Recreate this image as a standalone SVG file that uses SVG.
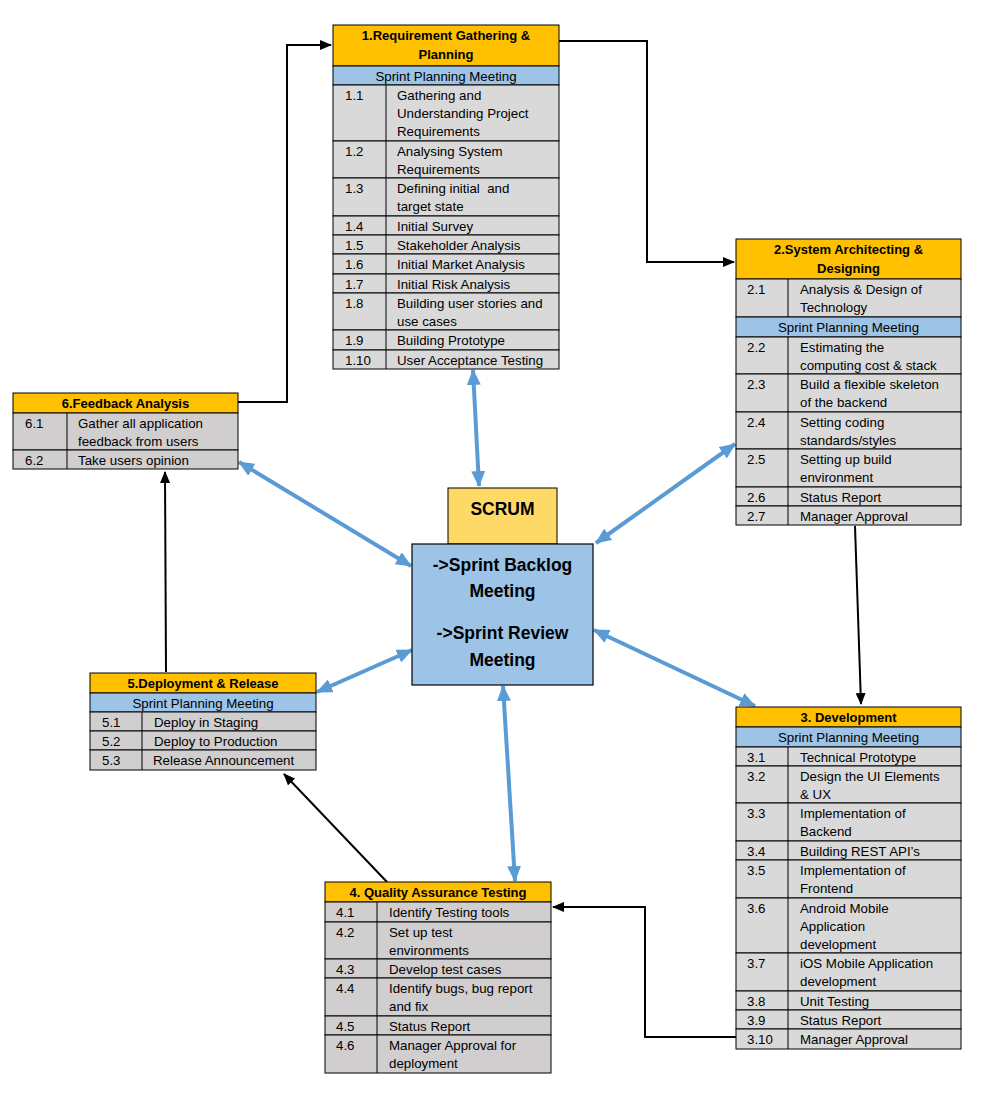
<svg xmlns="http://www.w3.org/2000/svg" width="982" height="1093" viewBox="0 0 982 1093">
<style>
text{font-family:"Liberation Sans",Arial,sans-serif;fill:#000}
.t{font-size:13.3px}
.h{font-size:13px;font-weight:bold;text-anchor:middle}
.c{text-anchor:middle}
.hd{fill:#FFC000;stroke:#000;stroke-width:1}
.sp{fill:#9DC3E6;stroke:#000;stroke-width:1}
.ra{fill:#D9D9D9;stroke:#000;stroke-width:1}
.rb{fill:#D0CECE;stroke:#000;stroke-width:1}
.dv{stroke:#000;stroke-width:1}
.bk{fill:none;stroke:#000;stroke-width:2}
.bl{fill:none;stroke:#5B9BD5;stroke-width:4}
.big{font-size:17.5px;font-weight:bold;text-anchor:middle}
</style>
<defs>
<marker id="ab" markerUnits="userSpaceOnUse" markerWidth="12" markerHeight="10" refX="11" refY="5" orient="auto"><path d="M0,0 L12,5 L0,10 z" fill="#000"/></marker>
<marker id="au" markerUnits="userSpaceOnUse" markerWidth="16" markerHeight="14" refX="15" refY="7" orient="auto-start-reverse"><path d="M0,0 L16,7 L0,14 z" fill="#5B9BD5"/></marker>
</defs>

<g id="connectors">
<polyline class="bk" points="238,402 287,402 287,45 331,45" marker-end="url(#ab)"/>
<polyline class="bk" points="559,41 647,41 647,262 734,262" marker-end="url(#ab)"/>
<line class="bk" x1="855" y1="526" x2="861" y2="704" marker-end="url(#ab)"/>
<polyline class="bk" points="736,1037 645,1037 645,907 553,907" marker-end="url(#ab)"/>
<line class="bk" x1="387" y1="882" x2="284" y2="774" marker-end="url(#ab)"/>
<line class="bk" x1="166" y1="672" x2="165" y2="472" marker-end="url(#ab)"/>
<line class="bl" x1="473" y1="370" x2="479" y2="486" marker-start="url(#au)" marker-end="url(#au)"/>
<line class="bl" x1="735" y1="444" x2="596" y2="543" marker-start="url(#au)" marker-end="url(#au)"/>
<line class="bl" x1="594" y1="630" x2="755" y2="706" marker-start="url(#au)" marker-end="url(#au)"/>
<line class="bl" x1="503" y1="686" x2="515" y2="881" marker-start="url(#au)" marker-end="url(#au)"/>
<line class="bl" x1="412" y1="650" x2="317" y2="692" marker-start="url(#au)" marker-end="url(#au)"/>
<line class="bl" x1="239" y1="462" x2="411" y2="566" marker-start="url(#au)" marker-end="url(#au)"/>
</g>

<g id="center">
<rect x="448" y="488" width="109" height="56" fill="#FFD966" stroke="#000" stroke-width="1"/>
<text class="big" x="502.5" y="515">SCRUM</text>
<rect x="412" y="544" width="181" height="141" fill="#9DC3E6" stroke="#000" stroke-width="1.2"/>
<text class="big" x="502.5" y="571">-&gt;Sprint Backlog</text>
<text class="big" x="502.5" y="597">Meeting</text>
<text class="big" x="502.5" y="639">-&gt;Sprint Review</text>
<text class="big" x="502.5" y="666">Meeting</text>
</g>

<g id="node1">
<rect class="hd" x="333" y="25" width="226" height="41"/>
<text class="h" x="446" y="40">1.Requirement Gathering &amp;</text>
<text class="h" x="446" y="59">Planning</text>
<rect class="sp" x="333" y="66" width="226" height="19"/>
<text class="t c" x="446" y="81">Sprint Planning Meeting</text>
<rect class="ra" x="333" y="85" width="226" height="56"/>
<rect class="ra" x="333" y="141" width="226" height="37"/>
<rect class="ra" x="333" y="178" width="226" height="38"/>
<rect class="ra" x="333" y="216" width="226" height="19"/>
<rect class="ra" x="333" y="235" width="226" height="19"/>
<rect class="ra" x="333" y="254" width="226" height="20"/>
<rect class="ra" x="333" y="274" width="226" height="19"/>
<rect class="ra" x="333" y="293" width="226" height="37"/>
<rect class="ra" x="333" y="330" width="226" height="20"/>
<rect class="ra" x="333" y="350" width="226" height="19"/>
<line class="dv" x1="386" y1="85" x2="386" y2="369"/>
<g class="t">
<text x="345" y="100">1.1</text><text x="397" y="100">Gathering and</text><text x="397" y="118">Understanding Project</text><text x="397" y="136">Requirements</text>
<text x="345" y="156">1.2</text><text x="397" y="156">Analysing System</text><text x="397" y="174">Requirements</text>
<text x="345" y="193">1.3</text><text x="397" y="193" xml:space="preserve">Defining initial  and</text><text x="397" y="211">target state</text>
<text x="345" y="231">1.4</text><text x="397" y="231">Initial Survey</text>
<text x="345" y="250">1.5</text><text x="397" y="250">Stakeholder Analysis</text>
<text x="345" y="269">1.6</text><text x="397" y="269">Initial Market Analysis</text>
<text x="345" y="289">1.7</text><text x="397" y="289">Initial Risk Analysis</text>
<text x="345" y="308">1.8</text><text x="397" y="308">Building user stories and</text><text x="397" y="326">use cases</text>
<text x="345" y="345">1.9</text><text x="397" y="345">Building Prototype</text>
<text x="345" y="365">1.10</text><text x="397" y="365">User Acceptance Testing</text>
</g>
</g>

<g id="node2">
<rect class="hd" x="736" y="239" width="225" height="40"/>
<text class="h" x="848.5" y="254">2.System Architecting &amp;</text>
<text class="h" x="848.5" y="273">Designing</text>
<rect class="ra" x="736" y="279" width="225" height="38"/>
<rect class="sp" x="736" y="317" width="225" height="20"/>
<text class="t c" x="848.5" y="332">Sprint Planning Meeting</text>
<rect class="ra" x="736" y="337" width="225" height="37"/>
<rect class="ra" x="736" y="374" width="225" height="38"/>
<rect class="ra" x="736" y="412" width="225" height="37"/>
<rect class="ra" x="736" y="449" width="225" height="38"/>
<rect class="ra" x="736" y="487" width="225" height="19"/>
<rect class="ra" x="736" y="506" width="225" height="19"/>
<line class="dv" x1="788" y1="279" x2="788" y2="317"/>
<line class="dv" x1="788" y1="337" x2="788" y2="525"/>
<g class="t">
<text x="747" y="294">2.1</text><text x="800" y="294">Analysis &amp; Design of</text><text x="800" y="312">Technology</text>
<text x="747" y="352">2.2</text><text x="800" y="352">Estimating the</text><text x="800" y="370">computing cost &amp; stack</text>
<text x="747" y="389">2.3</text><text x="800" y="389">Build a flexible skeleton</text><text x="800" y="407">of the backend</text>
<text x="747" y="427">2.4</text><text x="800" y="427">Setting coding</text><text x="800" y="445">standards/styles</text>
<text x="747" y="464">2.5</text><text x="800" y="464">Setting up build</text><text x="800" y="482">environment</text>
<text x="747" y="502">2.6</text><text x="800" y="502">Status Report</text>
<text x="747" y="521">2.7</text><text x="800" y="521">Manager Approval</text>
</g>
</g>

<g id="node3">
<rect class="hd" x="736" y="707" width="225" height="20"/>
<text class="h" x="848.5" y="722">3. Development</text>
<rect class="sp" x="736" y="727" width="225" height="20"/>
<text class="t c" x="848.5" y="742">Sprint Planning Meeting</text>
<rect class="ra" x="736" y="747" width="225" height="19"/>
<rect class="ra" x="736" y="766" width="225" height="37"/>
<rect class="ra" x="736" y="803" width="225" height="38"/>
<rect class="ra" x="736" y="841" width="225" height="19"/>
<rect class="ra" x="736" y="860" width="225" height="38"/>
<rect class="ra" x="736" y="898" width="225" height="55"/>
<rect class="ra" x="736" y="953" width="225" height="38"/>
<rect class="ra" x="736" y="991" width="225" height="19"/>
<rect class="ra" x="736" y="1010" width="225" height="19"/>
<rect class="ra" x="736" y="1029" width="225" height="20"/>
<line class="dv" x1="788" y1="747" x2="788" y2="1049"/>
<g class="t">
<text x="747" y="762">3.1</text><text x="800" y="762">Technical Prototype</text>
<text x="747" y="781">3.2</text><text x="800" y="781">Design the UI Elements</text><text x="800" y="799">&amp; UX</text>
<text x="747" y="818">3.3</text><text x="800" y="818">Implementation of</text><text x="800" y="836">Backend</text>
<text x="747" y="856">3.4</text><text x="800" y="856">Building REST API’s</text>
<text x="747" y="875">3.5</text><text x="800" y="875">Implementation of</text><text x="800" y="893">Frontend</text>
<text x="747" y="913">3.6</text><text x="800" y="913">Android Mobile</text><text x="800" y="931">Application</text><text x="800" y="949">development</text>
<text x="747" y="968">3.7</text><text x="800" y="968">iOS Mobile Application</text><text x="800" y="986">development</text>
<text x="747" y="1006">3.8</text><text x="800" y="1006">Unit Testing</text>
<text x="747" y="1025">3.9</text><text x="800" y="1025">Status Report</text>
<text x="747" y="1044">3.10</text><text x="800" y="1044">Manager Approval</text>
</g>
</g>

<g id="node4">
<rect class="hd" x="325" y="882" width="226" height="20"/>
<text class="h" x="438" y="897">4. Quality Assurance Testing</text>
<rect class="rb" x="325" y="902" width="226" height="20"/>
<rect class="rb" x="325" y="922" width="226" height="37"/>
<rect class="rb" x="325" y="959" width="226" height="19"/>
<rect class="rb" x="325" y="978" width="226" height="38"/>
<rect class="rb" x="325" y="1016" width="226" height="19"/>
<rect class="rb" x="325" y="1035" width="226" height="38"/>
<line class="dv" x1="377" y1="902" x2="377" y2="1073"/>
<g class="t">
<text x="336" y="917">4.1</text><text x="389" y="917">Identify Testing tools</text>
<text x="336" y="937">4.2</text><text x="389" y="937">Set up test</text><text x="389" y="955">environments</text>
<text x="336" y="974">4.3</text><text x="389" y="974">Develop test cases</text>
<text x="336" y="993">4.4</text><text x="389" y="993">Identify bugs, bug report</text><text x="389" y="1011">and fix</text>
<text x="336" y="1031">4.5</text><text x="389" y="1031">Status Report</text>
<text x="336" y="1050">4.6</text><text x="389" y="1050">Manager Approval for</text><text x="389" y="1068">deployment</text>
</g>
</g>

<g id="node5">
<rect class="hd" x="90" y="673" width="226" height="20"/>
<text class="h" x="203" y="688">5.Deployment &amp; Release</text>
<rect class="sp" x="90" y="693" width="226" height="19"/>
<text class="t c" x="203" y="708">Sprint Planning Meeting</text>
<rect class="rb" x="90" y="712" width="226" height="19"/>
<rect class="rb" x="90" y="731" width="226" height="19"/>
<rect class="rb" x="90" y="750" width="226" height="20"/>
<line class="dv" x1="142" y1="712" x2="142" y2="770"/>
<g class="t">
<text x="102" y="727">5.1</text><text x="154" y="727">Deploy in Staging</text>
<text x="102" y="746">5.2</text><text x="154" y="746">Deploy to Production</text>
<text x="102" y="765">5.3</text><text x="153" y="765">Release Announcement</text>
</g>
</g>

<g id="node6">
<rect class="hd" x="13" y="393" width="225" height="20"/>
<text class="h" x="125.5" y="408">6.Feedback Analysis</text>
<rect class="rb" x="13" y="413" width="225" height="37"/>
<rect class="rb" x="13" y="450" width="225" height="19"/>
<line class="dv" x1="67" y1="413" x2="67" y2="469"/>
<g class="t">
<text x="25" y="428">6.1</text><text x="78" y="428">Gather all application</text><text x="78" y="446">feedback from users</text>
<text x="25" y="465">6.2</text><text x="78" y="465">Take users opinion</text>
</g>
</g>
</svg>
